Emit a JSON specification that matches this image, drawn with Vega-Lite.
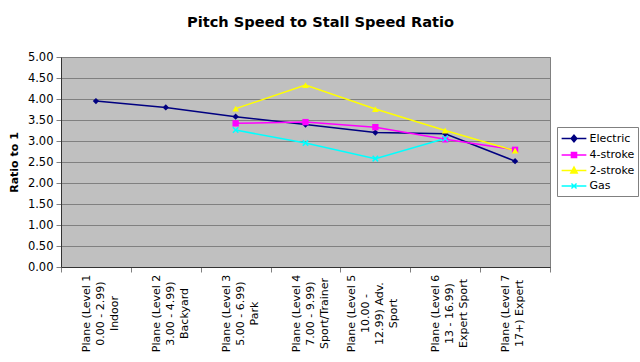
{
  "$schema": "https://vega.github.io/schema/vega-lite/v6.json",
  "autosize": "none",
  "width": 489,
  "height": 210,
  "padding": {"left": 61, "top": 57, "right": 90, "bottom": 95},
  "background": "white",
  "title": {
    "text": "Pitch Speed to Stall Speed Ratio",
    "font": "DejaVu Sans",
    "fontSize": 14.6,
    "fontWeight": "bold",
    "color": "black",
    "anchor": "middle",
    "dx": 15,
    "offset": 21
  },
  "config": {
    "view": {"fill": "#C0C0C0", "stroke": "#808080", "strokeWidth": 1},
    "axis": {"labelFont": "DejaVu Sans", "titleFont": "DejaVu Sans", "labelColor": "black", "titleColor": "black"}
  },
  "data": {
    "values": [
      {"level": "Plane (Level 1|0.00 - 2.99)|Indoor", "series": "Electric", "value": 3.95},
      {"level": "Plane (Level 2|3.00 - 4.99)|Backyard", "series": "Electric", "value": 3.80},
      {"level": "Plane (Level 3|5.00 - 6.99)|Park", "series": "Electric", "value": 3.58},
      {"level": "Plane (Level 4|7.00 - 9.99)|Sport/Trainer", "series": "Electric", "value": 3.39},
      {"level": "Plane (Level 5|10.00 -|12.99) Adv.|Sport", "series": "Electric", "value": 3.20},
      {"level": "Plane (Level 6|13 - 16.99)|Expert Sport", "series": "Electric", "value": 3.17},
      {"level": "Plane (Level 7|17+) Expert", "series": "Electric", "value": 2.52},
      {"level": "Plane (Level 3|5.00 - 6.99)|Park", "series": "4-stroke", "value": 3.42},
      {"level": "Plane (Level 4|7.00 - 9.99)|Sport/Trainer", "series": "4-stroke", "value": 3.45},
      {"level": "Plane (Level 5|10.00 -|12.99) Adv.|Sport", "series": "4-stroke", "value": 3.33},
      {"level": "Plane (Level 6|13 - 16.99)|Expert Sport", "series": "4-stroke", "value": 3.04},
      {"level": "Plane (Level 7|17+) Expert", "series": "4-stroke", "value": 2.79},
      {"level": "Plane (Level 3|5.00 - 6.99)|Park", "series": "2-stroke", "value": 3.77},
      {"level": "Plane (Level 4|7.00 - 9.99)|Sport/Trainer", "series": "2-stroke", "value": 4.33},
      {"level": "Plane (Level 5|10.00 -|12.99) Adv.|Sport", "series": "2-stroke", "value": 3.76},
      {"level": "Plane (Level 6|13 - 16.99)|Expert Sport", "series": "2-stroke", "value": 3.25},
      {"level": "Plane (Level 7|17+) Expert", "series": "2-stroke", "value": 2.77},
      {"level": "Plane (Level 3|5.00 - 6.99)|Park", "series": "Gas", "value": 3.26},
      {"level": "Plane (Level 4|7.00 - 9.99)|Sport/Trainer", "series": "Gas", "value": 2.95},
      {"level": "Plane (Level 5|10.00 -|12.99) Adv.|Sport", "series": "Gas", "value": 2.58},
      {"level": "Plane (Level 6|13 - 16.99)|Expert Sport", "series": "Gas", "value": 3.06}
    ]
  },
  "encoding": {
    "x": {
      "field": "level",
      "type": "nominal",
      "sort": null,
      "scale": {"type": "band", "paddingInner": 0, "paddingOuter": 0},
      "axis": {
        "title": null,
        "labelAngle": -90,
        "labelAlign": "center",
        "labelBaseline": "middle",
        "labelPadding": 41,
        "labelOffset": -23.5,
        "labelFontSize": 11,
        "labelLineHeight": 14,
        "labelExpr": "length(split(datum.label, '|')) >= 4 ? split(datum.label, '|') : split('|' + datum.label, '|')",
        "tickBand": "extent",
        "tickColor": "#808080",
        "tickSize": 5,
        "domainColor": "#333333",
        "grid": false,
        "labelLimit": 0
      }
    },
    "y": {
      "field": "value",
      "type": "quantitative",
      "scale": {"domain": [0, 5]},
      "axis": {
        "title": "Ratio to 1",
        "titleFontSize": 11,
        "titleFontWeight": "bold",
        "titlePadding": 8,
        "format": ".2f",
        "values": [0, 0.5, 1, 1.5, 2, 2.5, 3, 3.5, 4, 4.5, 5],
        "labelFontSize": 11.5,
        "gridColor": "#808080",
        "gridWidth": 1,
        "tickColor": "#808080",
        "tickSize": 5,
        "labelPadding": 3,
        "domainColor": "#333333"
      }
    },
    "color": {
      "field": "series",
      "type": "nominal",
      "scale": {"domain": ["Electric", "4-stroke", "2-stroke", "Gas"], "range": ["#000080", "#FF00FF", "#FFFF00", "#00FFFF"]},
      "legend": {
        "title": null,
        "orient": "none",
        "legendX": 496,
        "legendY": 70,
        "labelFont": "DejaVu Sans",
        "labelFontSize": 11,
        "labelColor": "black",
        "labelOffset": 7.5,
        "strokeColor": "#808080",
        "fillColor": "white",
        "padding": 3.5,
        "rowPadding": 1.5,
        "symbolOffset": 5.5,
        "symbolSize": 200,
        "symbolStrokeWidth": 1.5,
        "encode": {
          "symbols": {
            "update": {
              "shape": {"signal": "datum.value == 'Electric' ? 'M-1.75,0H1.75M0,-0.48L0.4,0L0,0.48L-0.4,0Z' : datum.value == '4-stroke' ? 'M-1.75,0H1.75M-0.36,-0.36H0.36V0.36H-0.36Z' : datum.value == '2-stroke' ? 'M-1.75,0H1.75M0,-0.48L0.45,0.36L-0.45,0.36Z' : 'M-1.75,0H1.75M-0.36,-0.36L0.36,0.36M-0.36,0.36L0.36,-0.36'"},
              "fill": {"signal": "scale('color', datum.value)"},
              "stroke": {"signal": "scale('color', datum.value)"},
              "fillOpacity": {"value": 1}
            }
          }
        }
      }
    }
  },
  "layer": [
    {"mark": {"type": "line", "strokeWidth": 1.5}},
    {
      "transform": [{"filter": "datum.series == 'Electric'"}],
      "mark": {"type": "point", "shape": "diamond", "filled": true, "size": 40, "opacity": 1}
    },
    {
      "transform": [{"filter": "datum.series == '4-stroke'"}],
      "mark": {"type": "point", "shape": "square", "filled": true, "size": 40, "opacity": 1}
    },
    {
      "transform": [{"filter": "datum.series == '2-stroke'"}],
      "mark": {"type": "point", "shape": "triangle-up", "filled": true, "size": 45, "opacity": 1}
    },
    {
      "transform": [{"filter": "datum.series == 'Gas'"}],
      "mark": {"type": "point", "shape": "M-1,-1L1,1M-1,1L1,-1", "filled": false, "size": 30, "opacity": 1, "strokeWidth": 1.5}
    }
  ]
}
